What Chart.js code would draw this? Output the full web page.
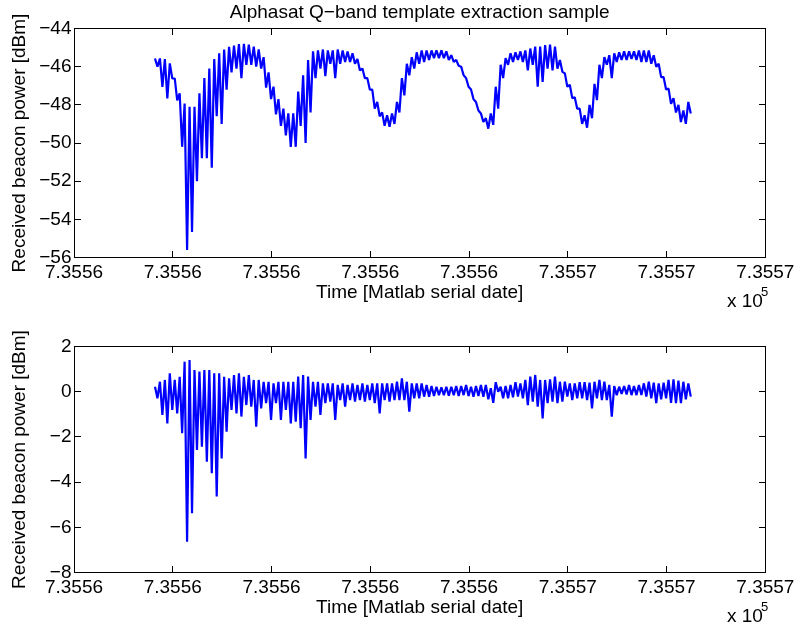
<!DOCTYPE html>
<html>
<head>
<meta charset="utf-8">
<script src="https://cdn.jsdelivr.net/npm/chart.js@4.4.0/dist/chart.umd.min.js"></script>
<style>
  body { margin: 0; background: #fff; }
  #wrap { position: relative; width: 798px; height: 630px; }
  canvas { position: absolute; left: 0; }
</style>
</head>
<body>
<div id="wrap">
  <canvas id="canvas" width="798" height="315" style="top:0px"></canvas>
  <canvas id="canvas-two" width="798" height="315" style="top:315px"></canvas>
</div>
<script>
// time of first sample and spacing between samples (Matlab serial date, days)
var tStart = 735561.82;
var tStep = 0.025;

var xTicks = [735561, 735562, 735563, 735564, 735565, 735566, 735567, 735568];
var topYTicks = [-56, -54, -52, -50, -48, -46, -44];
var botYTicks = [-8, -6, -4, -2, 0, 2];

// received power, upper and lower edge of the noisy trace [dBm]
var topHi = [-45.57, -45.57, -45.6, -45.83, -46.62, -47.4, -47.93, -48.1, -48.1, -47.4,
  -46.6, -46.1, -45.6, -45.3, -45.1, -44.96, -44.9, -44.82, -44.8, -44.85,
  -44.95, -45.1, -45.5, -46.3, -47.05, -47.7, -48.2, -48.45, -48.45, -47.3,
  -46.45, -45.65, -45.2, -45.15, -45.1, -45.15, -45.15, -45.1, -45.15, -45.2,
  -45.3, -45.6, -46.1, -46.6, -47.2, -47.85, -48.4, -48.55, -48.45, -47.85,
  -46.6, -45.85, -45.5, -45.25, -45.15, -45.15, -45.15, -45.15, -45.15, -45.2,
  -45.4, -45.65, -46.0, -46.6, -47.2, -47.85, -48.45, -48.7, -48.45, -47.05,
  -45.9, -45.55, -45.3, -45.25, -45.2, -45.15, -45.05, -44.95, -44.95, -44.87,
  -44.85, -44.95, -45.65, -46.35, -46.95, -47.6, -48.2, -48.55, -48.0, -46.9,
  -45.9, -45.5, -45.4, -45.3, -45.25, -45.2, -45.2, -45.2, -45.15, -45.15,
  -45.15, -45.4, -45.85, -46.55, -47.15, -47.65, -48.0, -48.3, -47.85];
var topLo = [-46.0, -47.06, -47.67, -46.62, -47.76, -50.2, -55.6, -54.66, -52.0, -50.8,
  -50.8, -51.3, -48.6, -49.0, -47.2, -46.3, -46.1, -46.6, -45.9, -45.9,
  -46.0, -46.1, -47.1, -47.7, -48.5, -49.1, -49.6, -50.2, -50.2, -49.1,
  -50.0, -48.4, -46.6, -46.1, -46.5, -45.85, -46.6, -45.85, -45.75, -45.75,
  -45.85, -46.2, -46.6, -47.2, -48.2, -48.6, -49.1, -49.15, -49.0, -48.4,
  -47.5, -46.45, -46.1, -45.85, -45.75, -45.65, -45.55, -45.55, -45.55, -45.65,
  -45.75, -45.95, -46.45, -47.05, -47.7, -48.3, -48.9, -49.25, -49.05, -48.2,
  -46.6, -45.9, -45.75, -45.65, -45.75, -46.2, -45.9, -47.05, -46.8, -46.1,
  -46.2, -46.1, -46.27, -47.05, -47.65, -48.2, -49.0, -49.2, -48.7, -47.75,
  -46.6, -45.9, -46.6, -45.75, -45.65, -45.65, -45.6, -45.65, -45.75, -45.75,
  -45.85, -46.0, -46.55, -47.2, -47.95, -48.4, -48.9, -49.0, -48.45];

// power after template removal, upper and lower edge [dBm]
var botHi = [0.22, 0.44, 0.52, 0.81, 0.52, 0.66, 1.33, 1.40, 0.96, 0.89,
  0.96, 0.96, 0.81, 0.81, 0.66, 0.59, 0.74, 0.81, 0.66, 0.74,
  0.52, 0.52, 0.44, 0.44, 0.37, 0.44, 0.44, 0.44, 0.44, 0.67,
  0.74, 0.67, 0.44, 0.44, 0.37, 0.37, 0.37, 0.30, 0.37, 0.30,
  0.37, 0.30, 0.37, 0.30, 0.37, 0.37, 0.37, 0.37, 0.37, 0.44,
  0.59, 0.44, 0.37, 0.37, 0.37, 0.30, 0.25, 0.22, 0.19, 0.22,
  0.22, 0.25, 0.25, 0.30, 0.22, 0.25, 0.30, 0.30, 0.15, 0.42,
  0.22, 0.25, 0.30, 0.42, 0.37, 0.52, 0.67, 0.74, 0.52, 0.52,
  0.55, 0.67, 0.44, 0.44, 0.37, 0.37, 0.42, 0.42, 0.40, 0.44,
  0.52, 0.44, 0.30, 0.25, 0.22, 0.25, 0.30, 0.25, 0.30, 0.37,
  0.44, 0.40, 0.37, 0.40, 0.52, 0.55, 0.49, 0.44, 0.37];
var botLo = [-0.29, -1.03, -1.40, -0.81, -0.96, -1.84, -6.64, -5.38, -2.58, -2.43,
  -3.10, -3.61, -4.64, -2.95, -1.77, -0.81, -0.96, -1.10, -0.59, -0.66,
  -1.55, -0.74, -0.51, -1.25, -0.51, -1.25, -0.81, -1.40, -1.33, -1.62,
  -2.95, -1.25, -0.66, -1.03, -0.51, -0.44, -1.25, -0.37, -0.66, -0.37,
  -0.44, -0.37, -0.44, -0.37, -0.51, -0.96, -0.37, -0.44, -0.37, -0.37,
  -0.37, -0.88, -0.29, -0.29, -0.22, -0.22, -0.19, -0.15, -0.15, -0.18,
  -0.15, -0.19, -0.15, -0.19, -0.22, -0.19, -0.22, -0.34, -0.49, 0.0,
  -0.29, -0.29, -0.25, -0.22, -0.29, -0.59, -0.44, -0.66, -1.18, -0.51,
  -0.44, -0.51, -0.44, -0.22, -0.37, -0.29, -0.29, -0.37, -0.74, -0.29,
  -0.37, -0.37, -1.10, -0.15, -0.10, -0.12, -0.15, -0.15, -0.15, -0.22,
  -0.29, -0.51, -0.34, -0.29, -0.49, -0.51, -0.51, -0.34, -0.22];

var fontFamily = "'Liberation Sans', Arial, Helvetica, sans-serif";

function buildPoints(hi, lo) {
    var pts = [];
    for (var i = 0; i < hi.length; i++) {
        pts.push({x: tStart + 2 * i * tStep, y: hi[i]});
        pts.push({x: tStart + (2 * i + 1) * tStep, y: lo[i]});
    }
    return pts;
}

function minusLabel(v) {
    return v < 0 ? '\u2212' + Math.abs(v) : String(v);
}

// box round the axes, inward ticks on all sides and the x 10^5 note
var matlabAxes = {
    id: 'matlabAxes',
    afterDraw: function(chart) {
        var ctx = chart.ctx, a = chart.chartArea;
        var xs = chart.scales.x, ys = chart.scales.y;
        var L = Math.floor(a.left) + 0.5, R = Math.floor(a.right) + 0.5;
        var T = Math.floor(a.top) + 0.5, B = Math.floor(a.bottom) + 0.5;
        var tl = 6.5;
        ctx.save();
        ctx.strokeStyle = '#000';
        ctx.lineWidth = 1;
        ctx.strokeRect(L, T, R - L, B - T);
        ctx.beginPath();
        xs.ticks.forEach(function(t) {
            var px = Math.floor(xs.getPixelForValue(t.value)) + 0.5;
            ctx.moveTo(px, B); ctx.lineTo(px, B - tl);
            ctx.moveTo(px, T); ctx.lineTo(px, T + tl);
        });
        ys.ticks.forEach(function(t) {
            var py = Math.floor(ys.getPixelForValue(t.value)) + 0.5;
            ctx.moveTo(L, py); ctx.lineTo(L + tl, py);
            ctx.moveTo(R, py); ctx.lineTo(R - tl, py);
        });
        ctx.stroke();
        ctx.fillStyle = '#000';
        ctx.textAlign = 'left';
        ctx.textBaseline = 'alphabetic';
        ctx.font = '19px ' + fontFamily;
        ctx.fillText('x 10', 727, a.bottom + 49);
        ctx.font = '13px ' + fontFamily;
        ctx.fillText('5', 761, a.bottom + 38);
        ctx.restore();
    }
};

function makeChart(id, hi, lo, yTicks, title, padTop) {
    var ctx = document.getElementById(id).getContext('2d');
    return new Chart(ctx, {
        type: 'line',
        data: {
            datasets: [{
                data: buildPoints(hi, lo),
                borderColor: '#0000ff',
                backgroundColor: '#0000ff',
                borderWidth: 2.2,
                borderJoinStyle: 'bevel',
                pointRadius: 0,
                tension: 0
            }]
        },
        options: {
            responsive: false,
            animation: false,
            layout: { padding: { top: padTop, right: 30, bottom: 0, left: 0 } },
            plugins: {
                legend: { display: false },
                tooltip: { enabled: false },
                title: {
                    display: !!title,
                    text: title,
                    fullSize: false,
                    color: '#000',
                    font: { family: fontFamily, size: 19, weight: 'normal' },
                    padding: { top: 1, bottom: 4.7 }
                }
            },
            scales: {
                x: {
                    type: 'linear',
                    min: xTicks[0],
                    max: xTicks[xTicks.length - 1],
                    grid: { display: false, drawTicks: false },
                    border: { display: false },
                    afterBuildTicks: function(s) {
                        s.ticks = xTicks.map(function(v) { return {value: v}; });
                    },
                    afterFit: function(s) { s.height = 57.5; },
                    ticks: {
                        autoSkip: false, maxRotation: 0, minRotation: 0,
                        padding: 3.6, color: '#000',
                        font: { family: fontFamily, size: 19 },
                        callback: function(v) { return (v / 1e5).toFixed(4); }
                    },
                    title: {
                        display: true,
                        text: 'Time [Matlab serial date]',
                        color: '#000',
                        font: { family: fontFamily, size: 19 },
                        padding: { top: 0, bottom: 10.6 }
                    }
                },
                y: {
                    min: yTicks[0],
                    max: yTicks[yTicks.length - 1],
                    grid: { display: false, drawTicks: false },
                    border: { display: false },
                    afterBuildTicks: function(s) {
                        s.ticks = yTicks.map(function(v) { return {value: v}; });
                    },
                    afterFit: function(s) { s.width = 74; },
                    ticks: {
                        padding: 2.5, color: '#000',
                        font: { family: fontFamily, size: 19 },
                        callback: minusLabel
                    },
                    title: {
                        display: true,
                        text: 'Received beacon power [dBm]',
                        color: '#000',
                        font: { family: fontFamily, size: 19 },
                        padding: { top: 8.6, bottom: 0 }
                    }
                }
            }
        },
        plugins: [matlabAxes]
    });
}

var myChart = makeChart('canvas', topHi, topLo, topYTicks,
    'Alphasat Q\u2212band template extraction sample', 0);
var myChart2 = makeChart('canvas-two', botHi, botLo, botYTicks, '', 31.5);
</script>
</body>
</html>
